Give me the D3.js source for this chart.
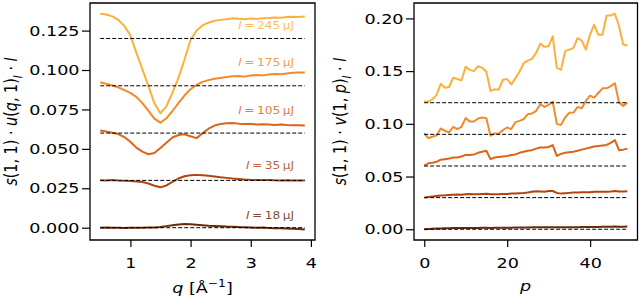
<!DOCTYPE html>
<html>
<head>
<meta charset="utf-8">
<script src="https://cdn.jsdelivr.net/npm/d3@7"></script>
<style>
body { margin: 0; background: #fff; }
svg { display: block; }
text { font-family: "DejaVu Sans", sans-serif; }
</style>
</head>
<body>
<div class="canvas"></div>
<script>
// data
const energies = ['245', '175', '105', '35', '18'];
const offsets = [0.12, 0.09, 0.06, 0.03, 0.0];
const lineColours = ['#fbb13c', '#f28a2a', '#dc651a', '#b2440f', '#6b2a0c'];
const labelLevels = [0.1262, 0.1025, 0.0718, 0.0370, 0.0055];

const qVals = [0.5, 0.6, 0.7, 0.8, 0.9, 1.0, 1.1, 1.2, 1.3, 1.4, 1.5, 1.6, 1.7, 1.8, 1.9, 2.0, 2.1, 2.2,
    2.3, 2.4, 2.5, 2.6, 2.7, 2.8, 2.9, 3.0, 3.1, 3.2, 3.3, 3.4, 3.5, 3.6, 3.7, 3.8, 3.9];

const uQ245 = [0.1357, 0.1352, 0.1340, 0.1318, 0.1280, 0.1220, 0.1110, 0.1005, 0.0900, 0.0790, 0.0726,
    0.0770, 0.0855, 0.0950, 0.1065, 0.1190, 0.1250, 0.1283, 0.1300, 0.1312, 0.1318, 0.1322, 0.1328,
    0.1325, 0.1322, 0.1326, 0.1324, 0.1328, 0.1330, 0.1333, 0.1331, 0.1336, 0.1338, 0.1336, 0.1340];
const uQ175 = [0.0922, 0.0912, 0.0902, 0.0890, 0.0872, 0.0855, 0.0830, 0.0790, 0.0742, 0.0692, 0.0666,
    0.0694, 0.0740, 0.0790, 0.0838, 0.0878, 0.0905, 0.0925, 0.0936, 0.0944, 0.0950, 0.0956, 0.0960,
    0.0962, 0.0958, 0.0965, 0.0968, 0.0966, 0.0972, 0.0975, 0.0973, 0.0978, 0.0982, 0.0985, 0.0984];
const uQ105 = [0.0616, 0.0610, 0.0602, 0.0594, 0.0575, 0.0545, 0.0508, 0.0482, 0.0466, 0.0474, 0.0505,
    0.0538, 0.0572, 0.0588, 0.0592, 0.0580, 0.0568, 0.0598, 0.0628, 0.0648, 0.0658, 0.0662, 0.0664,
    0.0660, 0.0657, 0.0658, 0.0655, 0.0656, 0.0654, 0.0652, 0.0654, 0.0651, 0.0650, 0.0649, 0.0648];
const uQ35 = [0.0301, 0.0300, 0.0302, 0.0299, 0.0298, 0.0296, 0.0293, 0.0290, 0.0280, 0.0266, 0.0256,
    0.0268, 0.0290, 0.0312, 0.0326, 0.0333, 0.0335, 0.0333, 0.0329, 0.0325, 0.0320, 0.0316, 0.0312,
    0.0309, 0.0306, 0.0304, 0.0303, 0.0302, 0.0303, 0.0301, 0.0300, 0.0301, 0.0299, 0.0300, 0.0299];
const uQ18 = [0.0000, 0.0001, -0.0001, 0.0000, -0.0002, 0.0000, -0.0001, 0.0000, 0.0001, 0.0002, 0.0004,
    0.0010, 0.0016, 0.0021, 0.0023, 0.0022, 0.0019, 0.0016, 0.0013, 0.0011, 0.0009, 0.0007, 0.0006,
    0.0004, 0.0003, 0.0002, 0.0000, 0.0001, -0.0002, -0.0003, -0.0004, -0.0005, -0.0007, -0.0008, -0.0012];

const pVals = [0, 1, 2, 3, 4, 5, 6, 7, 8, 9, 10, 11, 12, 13, 14, 15, 16, 17, 18, 19, 20, 21, 22, 23, 24,
    25, 26, 27, 28, 29, 30, 31, 32, 33, 34, 35, 36, 37, 38, 39, 40, 41, 42, 43, 44, 45, 46, 47, 48, 49];

const vP245 = [0.1211, 0.1210, 0.1233, 0.1274, 0.1380, 0.1343, 0.1349, 0.1437, 0.1425, 0.1412,
    0.1540, 0.1512, 0.1500, 0.1547, 0.1531, 0.1494, 0.1311, 0.1327, 0.1324, 0.1418,
    0.1425, 0.1374, 0.1431, 0.1494, 0.1575, 0.1600, 0.1616, 0.1673, 0.1761, 0.1730,
    0.1736, 0.1830, 0.1531, 0.1512, 0.1689, 0.1704, 0.1720, 0.1814, 0.1790, 0.1704,
    0.1846, 0.1940, 0.1846, 0.1846, 0.2028, 0.2028, 0.2044, 0.1925, 0.1752, 0.1742];
const vP175 = [0.0909, 0.0865, 0.0877, 0.0890, 0.0956, 0.0934, 0.0918, 0.0972, 0.0950, 0.0972,
    0.1054, 0.1022, 0.1022, 0.1050, 0.1060, 0.1054, 0.0887, 0.0909, 0.0909, 0.0940,
    0.0965, 0.0950, 0.1016, 0.1028, 0.1044, 0.1091, 0.1097, 0.1123, 0.1186, 0.1160,
    0.1179, 0.1210, 0.0997, 0.0990, 0.1060, 0.1104, 0.1107, 0.1160, 0.1148, 0.1217,
    0.1267, 0.1248, 0.1292, 0.1337, 0.1337, 0.1358, 0.1384, 0.1201, 0.1170, 0.1201];
const vP105 = [0.0604, 0.0625, 0.0630, 0.0640, 0.0660, 0.0665, 0.0670, 0.0680, 0.0680, 0.0690,
    0.0705, 0.0705, 0.0710, 0.0725, 0.0735, 0.0745, 0.0665, 0.0680, 0.0685, 0.0690,
    0.0695, 0.0705, 0.0710, 0.0725, 0.0735, 0.0745, 0.0750, 0.0765, 0.0775, 0.0775,
    0.0780, 0.0798, 0.0695, 0.0715, 0.0725, 0.0730, 0.0735, 0.0745, 0.0755, 0.0765,
    0.0775, 0.0785, 0.0790, 0.0795, 0.0800, 0.0820, 0.0845, 0.0750, 0.0755, 0.0765];
const vP35 = [0.0300, 0.0305, 0.0310, 0.0315, 0.0320, 0.0322, 0.0325, 0.0328, 0.0330, 0.0328,
    0.0332, 0.0335, 0.0333, 0.0333, 0.0335, 0.0336, 0.0332, 0.0333, 0.0333, 0.0334,
    0.0334, 0.0338, 0.0340, 0.0342, 0.0343, 0.0348, 0.0355, 0.0360, 0.0358, 0.0356,
    0.0362, 0.0363, 0.0345, 0.0338, 0.0342, 0.0345, 0.0348, 0.0348, 0.0350, 0.0352,
    0.0352, 0.0355, 0.0355, 0.0356, 0.0356, 0.0358, 0.0362, 0.0358, 0.0358, 0.0360];
const vP18 = [0.0000, 0.0003, 0.0005, 0.0007, 0.0008, 0.0009, 0.0010, 0.0011, 0.0011, 0.0012,
    0.0012, 0.0013, 0.0013, 0.0013, 0.0014, 0.0014, 0.0013, 0.0014, 0.0014, 0.0015,
    0.0015, 0.0015, 0.0016, 0.0016, 0.0017, 0.0017, 0.0018, 0.0018, 0.0019, 0.0019,
    0.0020, 0.0020, 0.0018, 0.0018, 0.0019, 0.0019, 0.0020, 0.0020, 0.0021, 0.0021,
    0.0022, 0.0022, 0.0022, 0.0023, 0.0023, 0.0024, 0.0025, 0.0024, 0.0024, 0.0025];

const uTicks = [0, 0.025, 0.05, 0.075, 0.1, 0.125];
const vTicks = [0, 0.05, 0.1, 0.15, 0.2];
const qTicks = [1, 2, 3, 4];
const pTicks = [0, 20, 40];

const uSeries = [uQ245, uQ175, uQ105, uQ35, uQ18];
const vSeries = [vP245, vP175, vP105, vP35, vP18];

// the reference picture is stretched sideways, so draw in a narrower viewBox
const SX = 1.22;
const W = 640, H = 301;
const px = v => v / SX;
const fontSize = 14.4;

const svg = d3.select('.canvas')
    .append('svg')
        .attr('width', W)
        .attr('height', H)
        .attr('viewBox', `0 0 ${W / SX} ${H}`)
        .attr('preserveAspectRatio', 'none');

const plotTop = 3, plotBottom = 240;

const xQ = d3.scaleLinear().domain([0.33, 4.07]).range([px(90), px(315)]);
const yU = d3.scaleLinear().domain([-0.0078, 0.1425]).range([plotBottom, plotTop]);
const xP = d3.scaleLinear().domain([-2.45, 51.45]).range([px(414), px(637.5)]);
const yV = d3.scaleLinear().domain([-0.0102, 0.2146]).range([plotBottom, plotTop]);

function mathText(sel, parts) {
    parts.forEach(p => {
        const t = sel.append('tspan').text(p.t);
        if (p.it) t.attr('font-style', 'italic');
        if (p.sub) t.attr('font-size', fontSize * 0.7).attr('dy', p.sub);
        if (p.sup) t.attr('font-size', fontSize * 0.7).attr('dy', p.sup);
        if (p.dy) t.attr('dy', p.dy);
    });
}

function drawPanel(x, y, xTicks, yTicks, yFormat, series, xVals) {
    const g = svg.append('g');

    // curves
    const line = d3.line().x((d, i) => x(xVals[i])).y(d => y(d));
    g.selectAll('path.curve')
        .data(series)
        .enter()
        .append('path')
        .attr('class', 'curve')
        .attr('fill', 'none')
        .attr('stroke', (d, i) => lineColours[i])
        .attr('stroke-width', 2)
        .attr('stroke-linejoin', 'round')
        .attr('vector-effect', 'non-scaling-stroke')
        .attr('d', d => line(d));

    // dashed baselines
    g.selectAll('line.base')
        .data(offsets)
        .enter()
        .append('line')
        .attr('class', 'base')
        .attr('stroke', '#000')
        .attr('stroke-width', 1)
        .attr('stroke-dasharray', '4,2')
        .attr('vector-effect', 'non-scaling-stroke')
        .attr('x1', x(xVals[0]))
        .attr('x2', x(xVals[xVals.length - 1]))
        .attr('y1', d => y(d))
        .attr('y2', d => y(d));

    const [x0, x1] = x.range();

    // axes
    const ax = g.append('g')
        .attr('transform', `translate(0,${plotBottom})`)
        .call(d3.axisBottom(x).tickValues(xTicks).tickFormat(d3.format('d'))
            .tickSize(7).tickPadding(11).tickSizeOuter(0));
    const ay = g.append('g')
        .attr('transform', `translate(${x0},0)`)
        .call(d3.axisLeft(y).tickValues(yTicks).tickFormat(d3.format(yFormat))
            .tickSize(px(8)).tickPadding(px(2.5)).tickSizeOuter(0));
    [ax, ay].forEach(a => {
        a.select('.domain').remove();
        a.attr('font-family', null).attr('font-size', fontSize);
        a.selectAll('line').attr('stroke-width', 1.2).attr('vector-effect', 'non-scaling-stroke');
        a.selectAll('text').attr('fill', '#000');
    });

    g.append('rect')
        .attr('x', x0)
        .attr('y', plotTop)
        .attr('width', x1 - x0)
        .attr('height', plotBottom - plotTop)
        .attr('fill', 'none')
        .attr('stroke', '#000')
        .attr('stroke-width', 1.3)
        .attr('vector-effect', 'non-scaling-stroke');
    return g;
}

const leftPanel = drawPanel(xQ, yU, qTicks, uTicks, '.3f', uSeries, qVals);
const rightPanel = drawPanel(xP, yV, pTicks, vTicks, '.2f', vSeries, pVals);

// energy labels on the left panel
energies.forEach((e, i) => {
    const t = leftPanel.append('text')
        .attr('x', px(294))
        .attr('y', yU(labelLevels[i]))
        .attr('text-anchor', 'end')
        .attr('font-size', 10)
        .attr('fill', lineColours[i])
        .attr('fill-opacity', 0.85);
    t.append('tspan').attr('font-style', 'italic').text('I');
    t.append('tspan').text(`\u2009=\u2009${e}\u2009µJ`);
});

// axis labels
const mid = (plotTop + plotBottom) / 2;
const yl1 = svg.append('text')
    .attr('font-size', fontSize)
    .attr('text-anchor', 'middle')
    .attr('transform', `translate(${px(17)},${mid}) rotate(-90)`);
mathText(yl1, [{t: 's', it: true}, {t: '(1, 1) · '}, {t: 'u', it: true}, {t: '('}, {t: 'q', it: true},
    {t: ', 1)'}, {t: 'I', it: true, sub: 4}, {t: ' · ', dy: -4}, {t: 'I', it: true}]);

const yl2 = svg.append('text')
    .attr('font-size', fontSize)
    .attr('text-anchor', 'middle')
    .attr('transform', `translate(${px(346)},${mid}) rotate(-90)`);
mathText(yl2, [{t: 's', it: true}, {t: '(1, 1) · '}, {t: 'v', it: true}, {t: '(1, '}, {t: 'p', it: true},
    {t: ')'}, {t: 'I', it: true, sub: 4}, {t: ' · ', dy: -4}, {t: 'I', it: true}]);

const xl1 = svg.append('text')
    .attr('font-size', fontSize)
    .attr('text-anchor', 'middle')
    .attr('x', px(202.5))
    .attr('y', 293);
mathText(xl1, [{t: 'q', it: true}, {t: ' [Å'}, {t: '−1', sup: -6}, {t: ']', dy: 6}]);

svg.append('text')
    .attr('font-size', fontSize)
    .attr('text-anchor', 'middle')
    .attr('font-style', 'italic')
    .attr('x', px(525.5))
    .attr('y', 291)
    .text('p');
</script>
</body>
</html>
